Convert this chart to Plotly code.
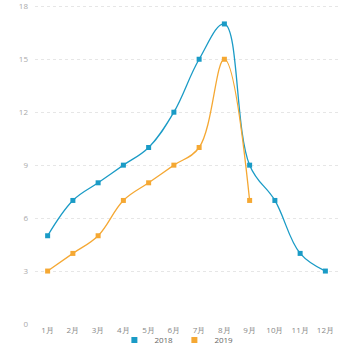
import plotly.graph_objects as go

months = ["1月","2月","3月","4月","5月","6月","7月","8月","9月","10月","11月","12月"]
s2018 = [5, 7, 8, 9, 10, 12, 15, 17, 9, 7, 4, 3]
s2019 = [3, 4, 5, 7, 8, 9, 10, 15, 7]
y_ticks = [0, 3, 6, 9, 12, 15, 18]

c1 = "#1a9bc6"
c2 = "#f5a833"

fig = go.Figure()
fig.add_trace(go.Scatter(x=months, y=s2018, name="2018", mode="lines+markers", showlegend=False,
                         line=dict(color=c1, width=1.3, shape="spline", smoothing=1.1),
                         marker=dict(color=c1, size=5, symbol="square")))
fig.add_trace(go.Scatter(x=months[:len(s2019)], y=s2019, name="2019", mode="lines+markers", showlegend=False,
                         line=dict(color=c2, width=1.3, shape="spline", smoothing=1.1),
                         marker=dict(color=c2, size=5, symbol="square")))
# legend entries (square swatches only)
fig.add_trace(go.Scatter(x=[None], y=[None], name="2018", mode="markers",
                         marker=dict(color=c1, size=6, symbol="square")))
fig.add_trace(go.Scatter(x=[None], y=[None], name="2019", mode="markers",
                         marker=dict(color=c2, size=6, symbol="square")))

fig.update_layout(
    width=350, height=350,
    margin=dict(l=35, r=12, t=4, b=26, autoexpand=False),
    paper_bgcolor="white", plot_bgcolor="white",
    font=dict(family="Open Sans, sans-serif", size=8, color="#999999"),
    showlegend=True,
    legend=dict(orientation="h", x=0.262, xanchor="left", y=-0.05, yanchor="middle",
                font=dict(size=8, color="#666666"), itemwidth=30,
                entrywidth=15, entrywidthmode="pixels",
                tracegroupgap=0, bgcolor="rgba(0,0,0,0)"),
    xaxis=dict(type="category", categoryorder="array", categoryarray=months,
               range=[-0.5, 11.5], showgrid=False, showline=False, zeroline=False,
               ticks="", tickfont=dict(size=8, color="#888888"), automargin=False),
    yaxis=dict(range=[0, 18.13], tickvals=y_ticks, showgrid=True, gridcolor="#e6e6e6",
               griddash="dot", gridwidth=1, zeroline=False, showline=False, ticks="",
               tickfont=dict(size=8, color="#aaaaaa"), ticklabelstandoff=6,
               automargin=False, ticklabeloverflow="allow"),
)

fig.write_html("out.html")
